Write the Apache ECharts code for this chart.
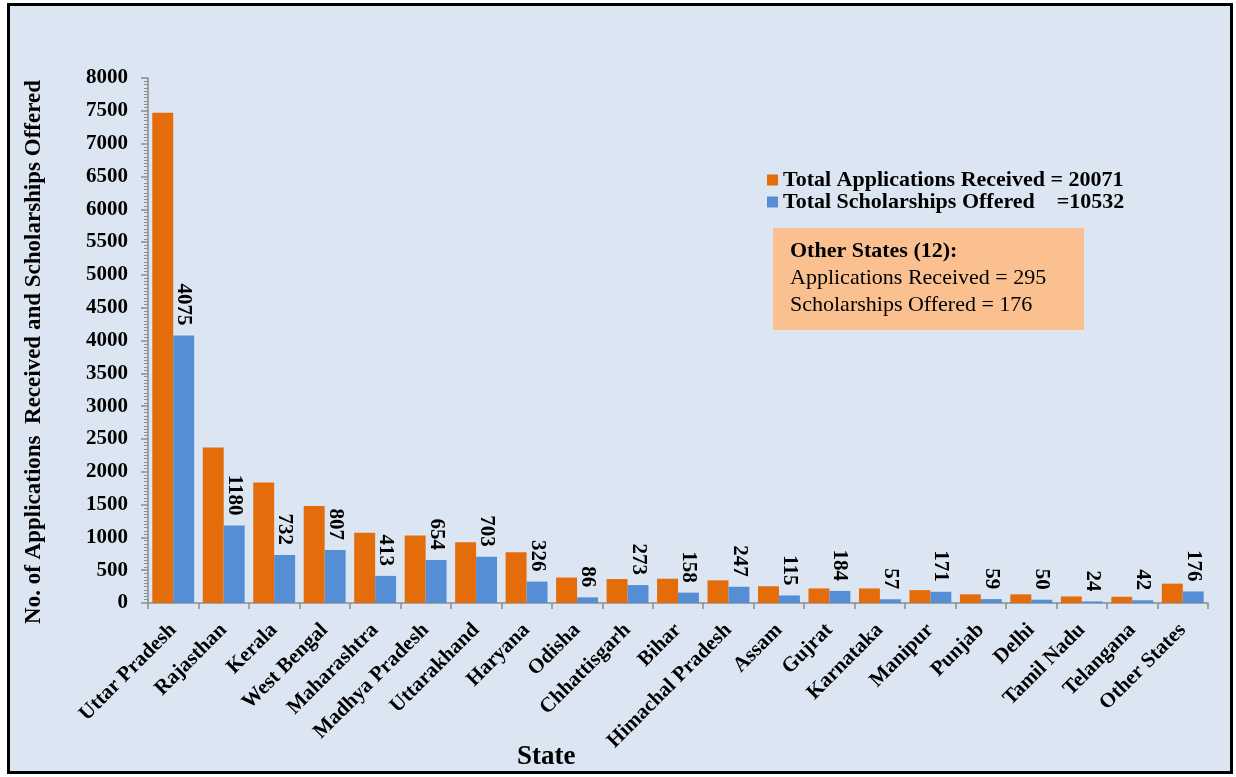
<!DOCTYPE html>
<html>
<head>
<meta charset="utf-8">
<script src="https://cdn.jsdelivr.net/npm/echarts@6/dist/echarts.min.js"></script>
<style>
  html, body { margin: 0; padding: 0; background: #ffffff; }
  #wrap { position: relative; width: 1236px; height: 777px; }
  #frame {
    position: absolute; left: 7px; top: 3px; width: 1226px; height: 771px;
    box-sizing: border-box; border: 3px solid #000; background: #DCE6F2;
  }
  #chart { position: absolute; left: 0; top: 0; width: 1236px; height: 777px; }
</style>
</head>
<body>
<div id="wrap">
  <div id="frame"></div>
  <div id="chart"></div>
</div>
<script>
// States, ordered by number of applications received
const states = [
  'Uttar Pradesh', 'Rajasthan', 'Kerala', 'West Bengal', 'Maharashtra',
  'Madhya Pradesh', 'Uttarakhand', 'Haryana', 'Odisha', 'Chhattisgarh',
  'Bihar', 'Himachal Pradesh', 'Assam', 'Gujrat', 'Karnataka', 'Manipur',
  'Punjab', 'Delhi', 'Tamil Nadu', 'Telangana', 'Other States'
];

// Applications received per state
const applications = [
  7470, 2370, 1835, 1480, 1070, 1030, 925, 774, 388, 365,
  370, 345, 255, 222, 222, 196, 132, 132, 100, 95, 295
];

// Scholarships offered per state
const scholarships = [
  4075, 1180, 732, 807, 413, 654, 703, 326, 86, 273,
  158, 247, 115, 184, 57, 171, 59, 50, 24, 42, 176
];

// Number of states grouped under "Other States"
const otherStatesCount = 12;

// Y axis range and step
const yMin = 0;
const yMax = 8000;
const yStep = 500;

const sum = arr => arr.reduce((a, b) => a + b, 0);
const totalApplications = sum(applications);
const totalScholarships = sum(scholarships);
const last = states.length - 1;

const serif = 'Liberation Serif';
const axisGray = '#8c8c8c';
const orange = '#E46C0A';
const blue = '#558ED5';

const chart = echarts.init(document.getElementById('chart'), null, { renderer: 'canvas' });

chart.setOption({
  backgroundColor: 'transparent',
  animation: false,
  textStyle: { fontFamily: serif },
  grid: { left: 148, right: 28, top: 78, bottom: 174, containLabel: false },
  legend: {
    left: 762, top: 164, orient: 'vertical',
    icon: 'rect', itemWidth: 11, itemHeight: 11, itemGap: 0,
    textStyle: { fontFamily: serif, fontWeight: 'bold', fontSize: 22, lineHeight: 22, color: '#000' },
    formatter: name => name === 'Applications Received'
      ? 'Total Applications Received = ' + totalApplications
      : 'Total Scholarships Offered    =' + totalScholarships
  },
  xAxis: {
    type: 'category',
    data: states,
    axisLine: { lineStyle: { color: axisGray, width: 1.5 } },
    axisTick: { show: true, length: 6, lineStyle: { color: axisGray, width: 1.5 } },
    axisLabel: {
      interval: 0, rotate: 45, margin: 24,
      fontFamily: serif, fontWeight: 'bold', fontSize: 21, color: '#000'
    }
  },
  yAxis: {
    type: 'value',
    min: yMin, max: yMax, interval: yStep,
    axisLine: { show: true, lineStyle: { color: axisGray, width: 1.5 } },
    axisTick: { show: true, length: 7, lineStyle: { color: axisGray, width: 1.5 } },
    minorTick: { show: true, splitNumber: 10, length: 4, lineStyle: { color: axisGray } },
    splitLine: { show: false },
    axisLabel: {
      margin: 20, fontFamily: serif, fontWeight: 'bold', fontSize: 21, color: '#000',
      formatter: v => String(v)
    }
  },
  series: [
    {
      name: 'Applications Received',
      type: 'bar',
      data: applications,
      itemStyle: { color: orange },
      barGap: '0%',
      barCategoryGap: '17%'
    },
    {
      name: 'Scholarships Offered',
      type: 'bar',
      data: scholarships,
      itemStyle: { color: blue },
      barGap: '0%',
      barCategoryGap: '17%',
      label: {
        show: true, position: 'top', rotate: -90, distance: 10,
        align: 'right', verticalAlign: 'middle',
        fontFamily: serif, fontWeight: 'bold', fontSize: 21, color: '#000'
      }
    }
  ],
  graphic: [
    {
      type: 'text',
      left: 517, top: 744,
      style: { text: 'State', font: 'bold 27px ' + serif, fill: '#000' }
    },
    {
      type: 'text',
      x: 34, y: 352, rotation: Math.PI / 2,
      style: {
        text: 'No. of Applications  Received and Scholarships Offered',
        font: 'bold 23px ' + serif, fill: '#000',
        align: 'center', verticalAlign: 'middle'
      }
    },
    {
      type: 'group',
      left: 773, top: 228,
      children: [
        {
          type: 'rect',
          shape: { x: 0, y: 0, width: 311, height: 102 },
          style: { fill: '#FAC090' }
        },
        {
          type: 'text', x: 17, y: 23,
          style: { text: 'Other States (' + otherStatesCount + '):', font: 'bold 22px ' + serif, fill: '#000', verticalAlign: 'middle' }
        },
        {
          type: 'text', x: 17, y: 50,
          style: { text: 'Applications Received = ' + applications[last], font: '22px ' + serif, fill: '#000', verticalAlign: 'middle' }
        },
        {
          type: 'text', x: 17, y: 77,
          style: { text: 'Scholarships Offered = ' + scholarships[last], font: '22px ' + serif, fill: '#000', verticalAlign: 'middle' }
        }
      ]
    }
  ]
});
</script>
</body>
</html>
